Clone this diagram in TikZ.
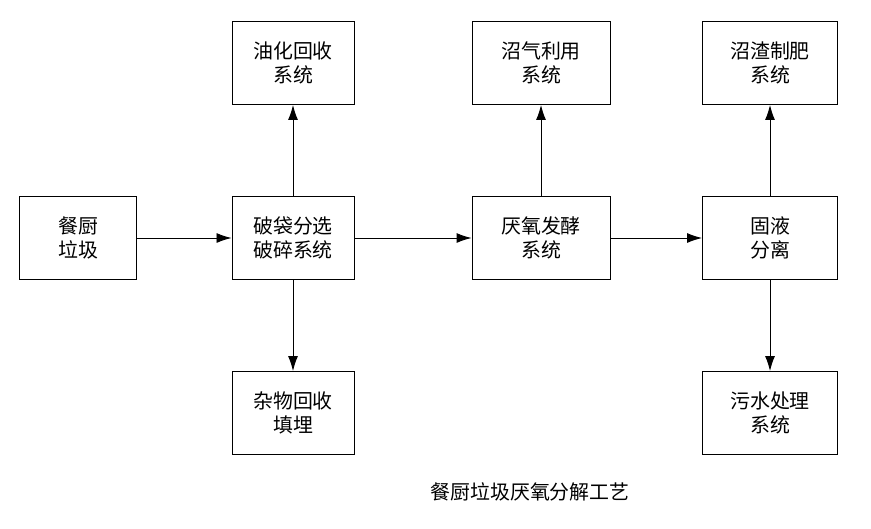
\documentclass[tikz,border=0pt]{standalone}
\usepackage{fontspec}
\setmainfont{Noto Sans CJK SC}
\usetikzlibrary{arrows.meta,positioning}
\tikzset{
  box/.style={draw, thick, align=center, fill=white, minimum height=2.49cm,
    font=\fontsize{17}{21}\selectfont, inner sep=2pt},
  arrow/.style={-{Latex[length=4.5mm,width=3mm]}, thick},
}
\begin{document}
\begin{tikzpicture}[x=0.03cm,y=-0.03cm]
  \useasboundingbox (0,0) rectangle (871,528);
  % main line
  \node[box, minimum width=3.51cm] (food) at (78,238) {餐厨\\垃圾};
  \node[box, minimum width=3.66cm] (sort) at (293,238) {破袋分选\\破碎系统};
  \node[box, minimum width=4.14cm] (ferm) at (541,238) {厌氧发酵\\系统};
  \node[box, minimum width=4.05cm] (sep) at (770,238) {固液\\分离};
  % branches
  \node[box, minimum width=3.66cm] (oil) at (293,63) {油化回收\\系统};
  \node[box, minimum width=3.66cm] (waste) at (293,413) {杂物回收\\填埋};
  \node[box, minimum width=4.14cm] (gas) at (541,63) {沼气利用\\系统};
  \node[box, minimum width=4.05cm] (fert) at (770,63) {沼渣制肥\\系统};
  \node[box, minimum width=4.05cm] (water) at (770,413) {污水处理\\系统};
  \draw[arrow] (food) -- (sort);
  \draw[arrow] (sort) -- (ferm);
  \draw[arrow] (ferm) -- (sep);
  \draw[arrow] (sort) -- (oil);
  \draw[arrow] (sort) -- (waste);
  \draw[arrow] (ferm) -- (gas);
  \draw[arrow] (sep) -- (fert);
  \draw[arrow] (sep) -- (water);
  % caption
  \node[font=\fontsize{17}{21}\selectfont] (title) at (530,492) {餐厨垃圾厌氧分解工艺};
\end{tikzpicture}
\end{document}
